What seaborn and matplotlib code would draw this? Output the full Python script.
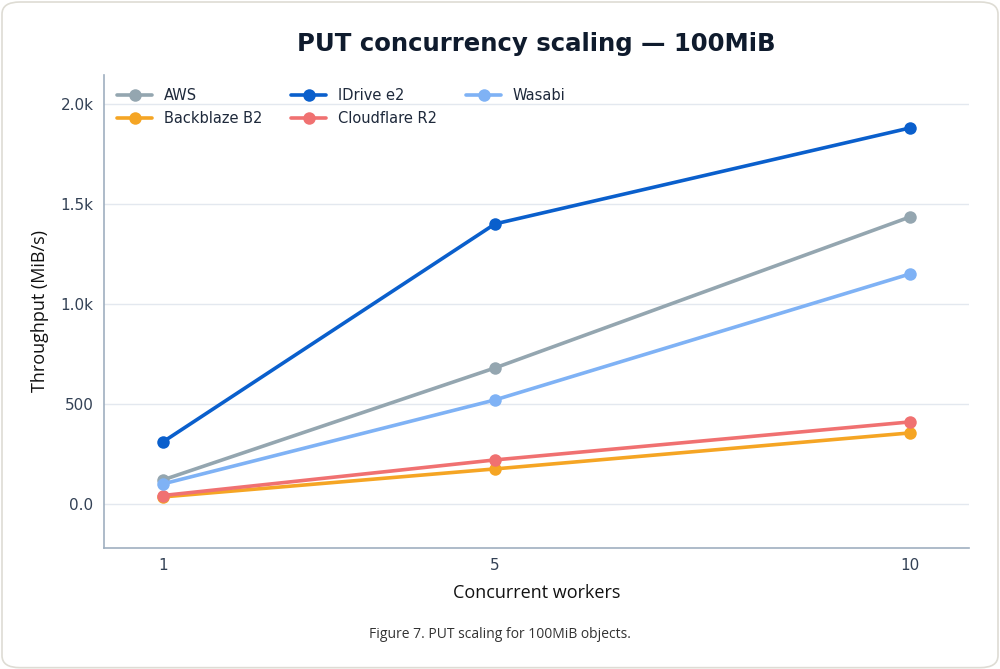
import numpy as np
import pandas as pd
import seaborn as sns
import matplotlib.pyplot as plt
from matplotlib.patches import FancyBboxPatch
from matplotlib.ticker import FuncFormatter

# values
workers = [1, 5, 10]
providers = ["AWS", "Backblaze B2", "IDrive e2", "Cloudflare R2", "Wasabi"]
aws = [120, 680, 1435]
backblaze = [35, 175, 355]
idrive = [310, 1400, 1880]
cloudflare = [42, 220, 410]
wasabi = [100, 520, 1150]

colors = ["#94a6b0", "#f5a524", "#0a5fcc", "#f07171", "#7fb2f5"]

rows = []
for name, vals in zip(providers, [aws, backblaze, idrive, cloudflare, wasabi]):
    for w, v in zip(workers, vals):
        rows.append({"workers": w, "provider": name, "throughput": v})
df = pd.DataFrame(rows)

sns.set_style("white")
plt.rcParams['font.family'] = ['DejaVu Sans']

fig = plt.figure(figsize=(10, 6.69), dpi=100)
fig.patch.set_facecolor("white")

# rounded card behind everything
card = FancyBboxPatch((0.002, 0.002), 0.996, 0.995,
                      boxstyle="round,pad=0,rounding_size=0.018",
                      transform=fig.transFigure, facecolor="white",
                      edgecolor="#dedcd4", linewidth=1.2, zorder=-10)
fig.patches.append(card)

ax = fig.add_axes([0.104, 0.181, 0.865, 0.707])
ax.set_facecolor("none")

sns.lineplot(data=df, x="workers", y="throughput", hue="provider",
             hue_order=providers, palette=colors, marker="o",
             markersize=9, markeredgewidth=0, linewidth=2.6, ax=ax)

ax.set_xlim(0.29, 10.71)
ax.set_ylim(-220, 2145)
ax.set_xticks(workers)
ax.set_yticks([0, 500, 1000, 1500, 2000])


def fmt(v, pos):
    if abs(v) >= 1000:
        return f"{v / 1000:.1f}k"
    if v == 0:
        return "0.0"
    return f"{v:.0f}"


ax.yaxis.set_major_formatter(FuncFormatter(fmt))
ax.grid(axis="y", color="#e3e8ef", linewidth=1)
ax.set_axisbelow(True)

for s in ["top", "right"]:
    ax.spines[s].set_visible(False)
for s in ["left", "bottom"]:
    ax.spines[s].set_color("#9fafc0")
    ax.spines[s].set_linewidth(1.2)

ax.tick_params(axis="both", colors="#334155", labelsize=11, length=4,
               color="#5b6b7d", width=1)

ax.set_xlabel("Concurrent workers", fontsize=13, family="Open Sans",
              color="#111111", labelpad=8)
ax.set_ylabel("Throughput (MiB/s)", fontsize=13, family="Open Sans",
              color="#111111", labelpad=8)

ax.set_title("PUT concurrency scaling — 100MiB", fontsize=17.6,
             fontweight="bold", color="#0f1b2d", pad=17)

leg = ax.legend(loc="upper left", ncol=3, frameon=False, fontsize=10.5,
                handlelength=2.4, columnspacing=2.0, labelspacing=0.55,
                borderaxespad=0.5, bbox_to_anchor=(0.0, 1.0))
for t in leg.get_texts():
    t.set_color("#1e293b")

fig.text(0.5, 0.052, "Figure 7. PUT scaling for 100MiB objects.",
         ha="center", va="center", fontsize=10, family="Open Sans",
         color="#333333")

fig.savefig("out.png", dpi=100)
